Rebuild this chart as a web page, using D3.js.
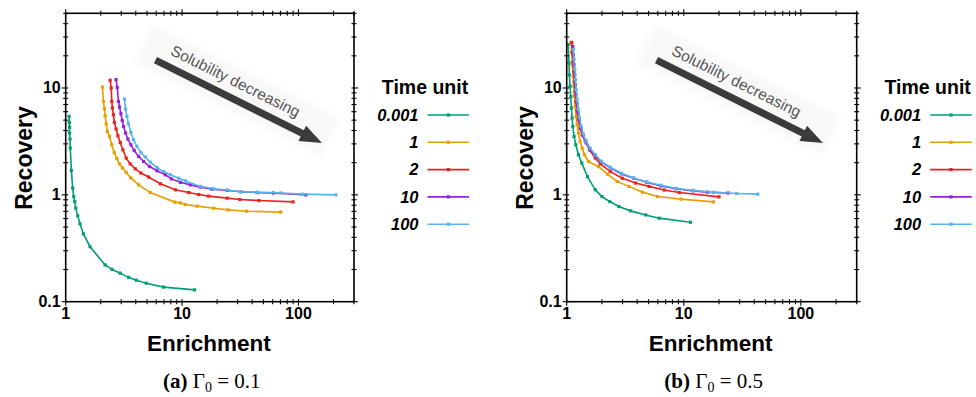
<!DOCTYPE html>
<html>
<head>
<meta charset="utf-8">
<script src="https://cdn.jsdelivr.net/npm/d3@7"></script>
<style>
  body { margin: 0; background: #fff; }
  svg { display: block; }
</style>
</head>
<body>
<svg id="chart" width="976" height="397"></svg>
<script>
// ---- data ----------------------------------------------------------------
const timeUnits = ["0.001", "1", "2", "10", "100"];
const seriesColors = ["#009E73", "#E69F00", "#E8221C", "#9A1FD9", "#56B4E9"];
const xTickValues = [1, 10, 100];
const yTickValues = [0.1, 1, 10];
const xTickLabels = ["1", "10", "100"];
const yTickLabels = ["0.1", "1", "10"];
const xDomain = [1, 300];
const yDomain = [0.1, 50];

// Panel (a): Gamma0 = 0.1, points are [enrichment, recovery]
const a_t0001 = [[1.07,5.42],[1.074,4.77],[1.08,4.30],[1.08,3.79],[1.089,3.33],[1.095,2.74],[1.118,1.69],[1.149,1.156],[1.172,0.964],[1.196,0.865],[1.22,0.75],[1.269,0.636],[1.328,0.535],[1.418,0.431],[1.62,0.327],[2.18,0.221],[2.49,0.201],[2.94,0.185],[3.47,0.169],[4.04,0.159],[4.92,0.149],[6.94,0.137],[12.8,0.129]];
const a_t1 = [[2.068,10.2],[2.11,7.48],[2.15,6.39],[2.18,5.50],[2.23,4.62],[2.28,3.92],[2.38,3.52],[2.49,2.94],[2.61,2.49],[2.75,2.19],[2.90,1.95],[3.08,1.78],[3.31,1.62],[3.63,1.44],[4.23,1.24],[5.33,1.05],[8.64,0.855],[9.67,0.841],[10.7,0.811],[13.5,0.784],[18.7,0.750],[24.9,0.723],[35.8,0.703],[70.4,0.689]];
const a_t2 = [[2.41,11.8],[2.46,10.0],[2.49,7.48],[2.52,6.49],[2.57,5.62],[2.62,4.77],[2.71,4.13],[2.81,3.57],[2.94,3.09],[3.10,2.64],[3.31,2.21],[3.58,1.95],[3.96,1.75],[4.43,1.60],[5.15,1.47],[6.50,1.27],[8.75,1.114],[11.4,1.05],[13.9,1.007],[16.9,0.972],[24.4,0.931],[31.4,0.904],[45.7,0.884],[89.8,0.860]];
const a_t10 = [[2.71,11.97],[2.77,10.1],[2.84,7.48],[2.90,6.64],[2.98,5.74],[3.06,4.97],[3.14,4.36],[3.27,3.79],[3.42,3.33],[3.63,2.94],[3.88,2.60],[4.23,2.29],[4.67,2.05],[5.26,1.84],[6.09,1.68],[7.18,1.54],[8.09,1.41],[9.67,1.31],[11.8,1.24],[14.4,1.18],[18.1,1.13],[24.4,1.10],[31.8,1.07],[44.3,1.05],[60.9,1.04],[116,1.0]];
const a_t100 = [[3.20,7.89],[3.27,6.35],[3.36,5.42],[3.46,4.62],[3.63,3.84],[3.83,3.28],[4.09,2.84],[4.43,2.49],[4.83,2.26],[5.33,2.02],[6.09,1.80],[6.94,1.65],[7.93,1.54],[9.35,1.43],[10.7,1.35],[14.4,1.20],[18.7,1.14],[24.4,1.11],[31.8,1.07],[44.3,1.06],[70.4,1.04],[108,1.015],[210,1.0]];

// Panel (b): Gamma0 = 0.5
const b_t0001 = [[1.03,25.5],[1.047,17.1],[1.053,13.3],[1.068,10.4],[1.083,8.34],[1.096,6.49],[1.111,5.23],[1.127,4.36],[1.156,3.52],[1.196,2.94],[1.259,2.37],[1.346,1.98],[1.505,1.48],[1.754,1.114],[2.0,0.964],[2.33,0.865],[2.79,0.777],[3.51,0.708],[4.73,0.649],[6.16,0.605],[11.4,0.554]];
const b_t1 = [[1.089,26.6],[1.104,21.3],[1.117,16.5],[1.133,12.8],[1.149,10.4],[1.163,8.34],[1.179,6.72],[1.203,5.42],[1.227,4.53],[1.259,3.79],[1.302,3.16],[1.355,2.74],[1.418,2.37],[1.535,2.05],[1.87,1.84],[2.23,1.56],[2.70,1.33],[3.40,1.20],[4.43,1.06],[5.97,0.964],[9.48,0.911],[17.9,0.860]];
const b_t2 = [[1.104,26.7],[1.117,21.9],[1.133,17.6],[1.149,14.2],[1.163,11.5],[1.179,9.23],[1.203,7.45],[1.227,6.12],[1.259,5.05],[1.302,4.20],[1.355,3.65],[1.438,3.21],[1.566,2.64],[1.754,2.21],[1.94,1.95],[2.36,1.65],[2.98,1.43],[3.88,1.29],[5.05,1.20],[6.80,1.11],[9.16,1.05],[20.0,0.958]];
const b_t10 = [[1.127,24.5],[1.14,20.5],[1.156,16.5],[1.172,13.3],[1.186,10.7],[1.203,8.65],[1.227,7.13],[1.252,5.87],[1.284,4.94],[1.328,4.16],[1.382,3.57],[1.466,3.07],[1.588,2.64],[1.754,2.32],[1.98,2.04],[2.36,1.79],[2.94,1.57],[3.73,1.43],[4.83,1.31],[6.37,1.21],[8.58,1.14],[12.0,1.09],[15.9,1.06],[23.9,1.04]];
const b_t100 = [[1.14,22.9],[1.156,18.4],[1.172,14.9],[1.186,12.0],[1.203,9.64],[1.227,7.77],[1.252,6.39],[1.284,5.27],[1.328,4.39],[1.382,3.73],[1.466,3.17],[1.588,2.73],[1.754,2.37],[1.98,2.06],[2.36,1.81],[2.94,1.59],[3.73,1.44],[4.83,1.32],[6.37,1.23],[8.58,1.15],[12.0,1.10],[17.9,1.055],[28.3,1.03],[42.9,1.015]];

const panels = [
  { left: 65.7, right: 354, letter: "(a)", gamma: "0.1", series: [a_t0001, a_t1, a_t2, a_t10, a_t100] },
  { left: 566.7, right: 856.7, letter: "(b)", gamma: "0.5", series: [b_t0001, b_t1, b_t2, b_t10, b_t100] }
];

// ---- drawing -------------------------------------------------------------
const svg = d3.select("#chart");
const plotTop = 13.3, plotBottom = 301.7;
const sans = "'Liberation Sans', Arial, sans-serif";

const defs = svg.append("defs");
defs.append("filter").attr("id", "soft").attr("x", "-20%").attr("y", "-40%").attr("width", "140%").attr("height", "180%")
  .append("feGaussianBlur").attr("stdDeviation", 3);

function logTicks(lo, hi) {
  const out = [];
  for (let d = Math.floor(Math.log10(lo)); d <= Math.ceil(Math.log10(hi)); d++) {
    for (let m = 1; m <= 9; m++) {
      const v = m * Math.pow(10, d);
      if (v >= lo * 0.999 && v <= hi * 1.001) out.push({ v, major: m === 1 });
    }
  }
  return out;
}

panels.forEach((p) => {
  const x = d3.scaleLog().domain(xDomain).range([p.left, p.right]);
  const y = d3.scaleLog().domain(yDomain).range([plotBottom, plotTop]);
  const g = svg.append("g");
  const cx = (p.left + p.right) / 2;

  // Arrow annotation with its soft backdrop
  const ax = p.left + 171, ay = 90, ang = 26.5;
  const note = g.append("g").attr("transform", `translate(${ax},${ay}) rotate(${ang})`);
  note.append("rect").attr("x", -103).attr("y", -21).attr("width", 207).attr("height", 42)
    .attr("fill", "#f8f8f8").attr("filter", "url(#soft)");
  note.append("path")
    .attr("d", "M-86,6 L78,6 L78,1 L100,9.5 L78,18 L78,13 L-86,13 Z")
    .attr("fill", "#3b3b3b");
  note.append("text").attr("x", -5).attr("y", -2)
    .attr("text-anchor", "middle")
    .attr("font-family", sans).attr("font-size", 15.5)
    .attr("fill", "#555").text("Solubility decreasing");

  // Series lines and markers
  const line = d3.line().x(d => x(d[0])).y(d => y(d[1]));
  p.series.forEach((s, i) => {
    g.append("path").datum(s).attr("d", line)
      .attr("fill", "none").attr("stroke", seriesColors[i]).attr("stroke-width", 1.6);
    g.selectAll(null).data(s).enter().append("rect")
      .attr("x", d => x(d[0]) - 1.6).attr("y", d => y(d[1]) - 1.6)
      .attr("width", 3.2).attr("height", 3.2).attr("fill", seriesColors[i]);
  });

  // Frame
  g.append("rect").attr("x", p.left).attr("y", plotTop)
    .attr("width", p.right - p.left).attr("height", plotBottom - plotTop)
    .attr("fill", "none").attr("stroke", "#000").attr("stroke-width", 1.6);

  // Ticks on all four sides
  logTicks(xDomain[0], xDomain[1]).forEach(t => {
    const xx = x(t.v), L = t.major ? 4 : 2.5;
    g.append("line").attr("x1", xx).attr("x2", xx).attr("y1", plotBottom - 2.5).attr("y2", plotBottom + L).attr("stroke", "#000").attr("stroke-width", 1.1);
    g.append("line").attr("x1", xx).attr("x2", xx).attr("y1", plotTop - L).attr("y2", plotTop + 2.5).attr("stroke", "#000").attr("stroke-width", 1.1);
  });
  logTicks(yDomain[0], yDomain[1]).forEach(t => {
    const yy = y(t.v), L = t.major ? 4 : 2.5;
    g.append("line").attr("y1", yy).attr("y2", yy).attr("x1", p.left - L).attr("x2", p.left + 2.5).attr("stroke", "#000").attr("stroke-width", 1.1);
    g.append("line").attr("y1", yy).attr("y2", yy).attr("x1", p.right - 2.5).attr("x2", p.right + L).attr("stroke", "#000").attr("stroke-width", 1.1);
  });

  // Tick labels
  xTickValues.forEach((v, i) => {
    g.append("text").attr("x", x(v)).attr("y", plotBottom + 17)
      .attr("text-anchor", "middle").attr("font-family", sans).attr("font-weight", "bold")
      .attr("font-size", 16).text(xTickLabels[i]);
  });
  yTickValues.forEach((v, i) => {
    g.append("text").attr("x", p.left - 5).attr("y", y(v) + 5.5)
      .attr("text-anchor", "end").attr("font-family", sans).attr("font-weight", "bold")
      .attr("font-size", 16).text(yTickLabels[i]);
  });

  // Axis titles
  g.append("text").attr("x", cx - 1).attr("y", 351)
    .attr("text-anchor", "middle").attr("font-family", sans).attr("font-weight", "bold")
    .attr("font-size", 22.5).text("Enrichment");
  g.append("text").attr("transform", `translate(${p.left - 34},158) rotate(-90)`)
    .attr("text-anchor", "middle").attr("font-family", sans).attr("font-weight", "bold")
    .attr("font-size", 23).text("Recovery");

  // Legend
  const lx = p.right + 26;
  g.append("text").attr("x", lx + 45).attr("y", 93.5)
    .attr("text-anchor", "middle").attr("font-family", sans).attr("font-weight", "bold")
    .attr("font-size", 19.5).text("Time unit");
  timeUnits.forEach((u, i) => {
    const yy = 115 + i * 27.3;
    g.append("text").attr("x", p.right + 64.5).attr("y", yy + 5.8)
      .attr("text-anchor", "end").attr("font-family", sans).attr("font-weight", "bold")
      .attr("font-style", "italic").attr("font-size", 16.5).text(u);
    g.append("line").attr("x1", p.right + 73.5).attr("x2", p.right + 115)
      .attr("y1", yy).attr("y2", yy).attr("stroke", seriesColors[i]).attr("stroke-width", 1.6);
    g.append("rect").attr("x", p.right + 94.3 - 1.6).attr("y", yy - 1.6)
      .attr("width", 3.2).attr("height", 3.2).attr("fill", seriesColors[i]);
  });

  // Sub-figure caption
  const cap = g.append("text").attr("x", cx + 2).attr("y", 388)
    .attr("text-anchor", "middle").attr("font-family", "'Liberation Serif', 'Times New Roman', serif")
    .attr("font-size", 21);
  cap.append("tspan").attr("font-weight", "bold").text(p.letter);
  cap.append("tspan").text(" \u0393");
  cap.append("tspan").attr("font-size", 14).attr("dy", 4).text("0");
  cap.append("tspan").attr("dy", -4).text(" = " + p.gamma);
});
</script>
</body>
</html>
